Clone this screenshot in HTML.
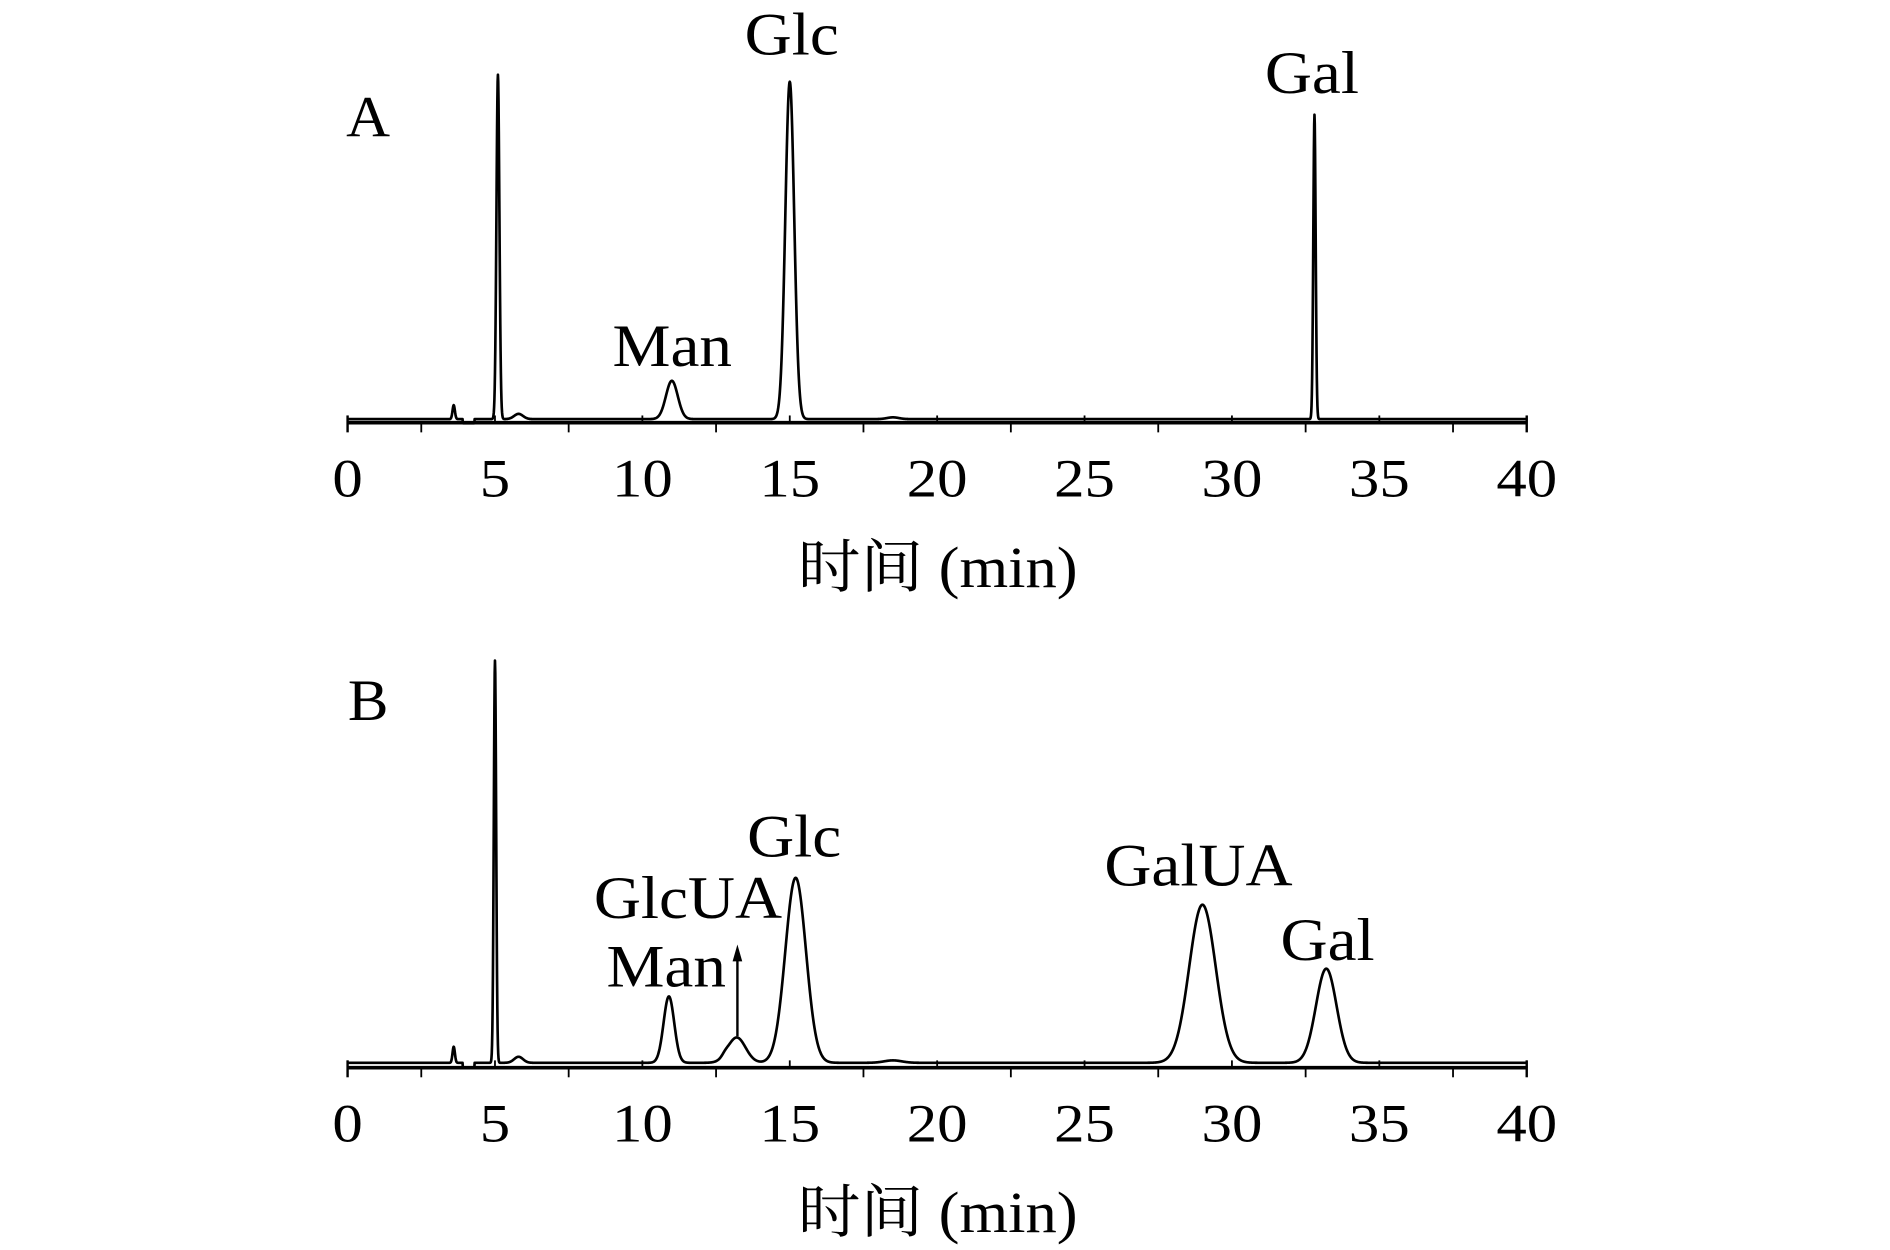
<!DOCTYPE html>
<html><head><meta charset="utf-8"><style>
html,body{margin:0;padding:0;background:#fff;}
svg{display:block;}
text{font-family:"Liberation Serif","Noto Serif CJK SC",serif;fill:#000;}
</style></head><body>
<svg id="chart" width="1890" height="1250" viewBox="0 0 1566 1035" preserveAspectRatio="none" xmlns="http://www.w3.org/2000/svg"></svg>
<script>
// Panel A peaks (retention time min, relative height %, sigma min)
const peakTimesA = [3.6, 5.1, 5.8, 11.0, 15.0, 18.5, 32.8];
const peakHeightsA = [4, 99, 1.5, 11, 97, 0.5, 87.5];
const peakWidthsA = [0.04, 0.05, 0.15, 0.2, 0.15, 0.2, 0.04];
// Panel B peaks
const peakTimesB = [3.6, 5.0, 5.8, 10.9, 12.8, 13.2, 15.2, 18.5, 29.0, 33.2];
const peakHeightsB = [4, 100, 1.5, 16.5, 0.5, 6.3, 46, 0.6, 39.3, 23.4];
const peakWidthsB = [0.04, 0.04, 0.15, 0.18, 0.1, 0.3, 0.35, 0.3, 0.45, 0.35];
const labelsA = ["Man", "Glc", "Gal"];
const labelPosA = [[557, 303], [656, 45], [1087, 77]];
const labelsB = ["GlcUA", "Man", "Glc", "GalUA", "Gal"];
const labelPosB = [[570, 760], [552, 817], [658, 709], [993, 733], [1100, 795]];
const tickLabels = ["0","5","10","15","20","25","30","35","40"];
const xMin = 0, xMax = 40;

const svg = document.getElementById('chart');
const NS = 'http://www.w3.org/2000/svg';
function mk(tag, attrs){const e=document.createElementNS(NS,tag);for(const k in attrs)e.setAttribute(k,attrs[k]);svg.appendChild(e);return e;}
function txt(x0, y0, size, str, sx){
  const t = mk('text',{x:0,y:0,'text-anchor':'middle','font-size':size,transform:'translate('+x0+','+y0+') scale('+sx+',1)'});
  t.textContent = str;
  return t;
}

function panel(id, axisY, base, top, times, heights, widths, letter, letterPos, labels, labelPos){
  const x = t => 288 + (t - xMin) / (xMax - xMin) * 977;
  const y = v => base - v / 100 * (base - top);
  let e = mk('line',{x1:288,x2:1265,y1:axisY,y2:axisY,stroke:'#000','stroke-width':3});
  
  
  for (let t = 0; t <= 40; t += 2.5){
    const major = (t % 5 === 0);
    e = mk('line',{x1:x(t),x2:x(t),y1:major?axisY-6:axisY,y2:major?axisY:axisY+8,stroke:'#000','stroke-width':1.5});
    
    
  }
  e = mk('line',{x1:288,x2:288,y1:axisY-6,y2:axisY+8,stroke:'#000','stroke-width':2});
  
  
  e = mk('line',{x1:1265,x2:1265,y1:axisY-6,y2:axisY+8,stroke:'#000','stroke-width':2});
  
  
  tickLabels.forEach((lab,i)=>{
    const t = txt(x(i*5), axisY+61, 45, lab, 1.12);
    
    
  });
  const tt = txt(777, axisY+136, 48, '时间 (min)', 1.08);
  
  
  let d = '';
  for (let t = 0; t <= 40; t += 0.01){
    let v = 0;
    if (t > 3.9 && t < 4.3) v -= 1.2;
    for (let i = 0; i < times.length; i++){
      const z = (t - times[i]) / widths[i];
      v += heights[i] * Math.exp(-0.5 * z * z);
    }
    d += (d ? 'L' : 'M') + x(t).toFixed(2) + ',' + y(v).toFixed(2);
  }
  e = mk('path',{d:d,fill:'none',stroke:'#000','stroke-width':2.2,'stroke-linejoin':'round'});
  
  
  const L = txt(letterPos[0]+18, letterPos[1], 48, letter, 1.05);
  
  
  labels.forEach((lab,i)=>{
    const t = txt(labelPos[i][0], labelPos[i][1], 50, lab, 1.08);
    
    
  });
}
panel('a', 350, 347, 59, peakTimesA, peakHeightsA, peakWidthsA, 'A', [287,113], labelsA, labelPosA);
panel('b', 884, 880, 547, peakTimesB, peakHeightsB, peakWidthsB, 'B', [287,596], labelsB, labelPosB);
let ar = mk('line',{x1:611,x2:611,y1:858,y2:792,stroke:'#000','stroke-width':2});


ar = mk('polygon',{points:'607,796 615,796 611,782',fill:'#000'});


</script>
</body></html>
